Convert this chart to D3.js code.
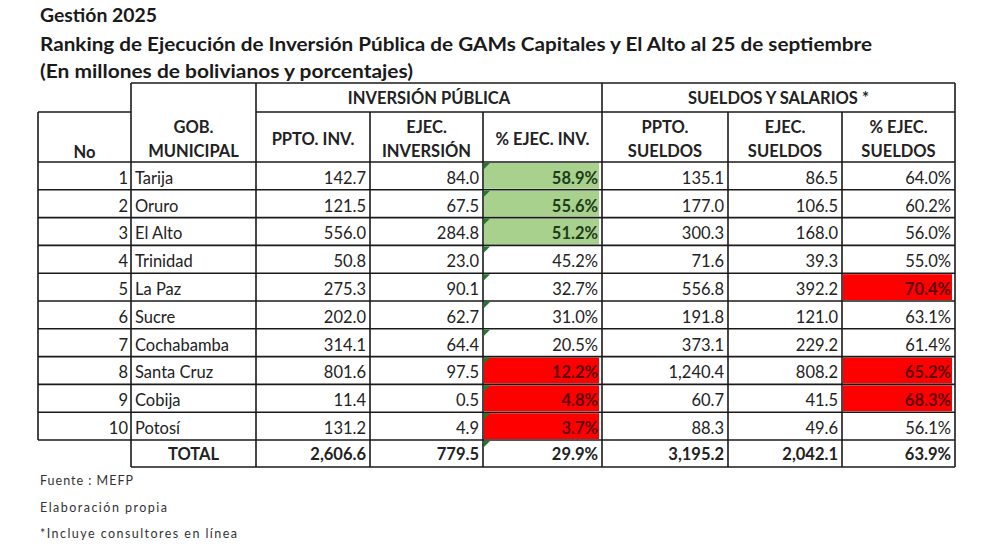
<!DOCTYPE html>
<html><head><meta charset="utf-8">
<script src="https://cdn.jsdelivr.net/npm/d3@7"></script>
<style>html,body{margin:0;padding:0;background:#fff;}svg{display:block;}</style>
</head><body>
<script>
// ---- data ----
const titleLines = ["Gestión 2025",
  "Ranking de Ejecución de Inversión Pública de GAMs Capitales y El Alto al 25 de septiembre",
  "(En millones de bolivianos y porcentajes)"];
const rankNo = [1,2,3,4,5,6,7,8,9,10];
const municipios = ["Tarija","Oruro","El Alto","Trinidad","La Paz","Sucre","Cochabamba","Santa Cruz","Cobija","Potosí"];
const pptoInv = [142.7,121.5,556.0,50.8,275.3,202.0,314.1,801.6,11.4,131.2];
const ejecInv = [84.0,67.5,284.8,23.0,90.1,62.7,64.4,97.5,0.5,4.9];
const pctInv = [58.9,55.6,51.2,45.2,32.7,31.0,20.5,12.2,4.8,3.7];
const pptoSue = [135.1,177.0,300.3,71.6,556.8,191.8,373.1,1240.4,60.7,88.3];
const ejecSue = [86.5,106.5,168.0,39.3,392.2,121.0,229.2,808.2,41.5,49.6];
const pctSue = [64.0,60.2,56.0,55.0,70.4,63.1,61.4,65.2,68.3,56.1];
const totals = {pptoInv:2606.6, ejecInv:779.5, pctInv:29.9, pptoSue:3195.2, ejecSue:2042.1, pctSue:63.9};
const greenInv = ["Tarija","Oruro","El Alto"];
const redInv = ["Santa Cruz","Cobija","Potosí"];
const redSue = ["La Paz","Santa Cruz","Cobija"];
const groupHeaders = ["INVERSIÓN PÚBLICA","SUELDOS Y SALARIOS *"];
const colHeaders = [["No"],["GOB.","MUNICIPAL"],["PPTO. INV."],["EJEC.","INVERSIÓN"],["% EJEC. INV."],["PPTO.","SUELDOS"],["EJEC.","SUELDOS"],["% EJEC.","SUELDOS"]];
const footnotes = ["Fuente : MEFP","Elaboración propia","*Incluye consultores en línea"];

// ---- layout ----
const W=1000,H=558;
const FONT="Lato, 'Open Sans', sans-serif";
const TXT="#222";
const svg=d3.select("body").append("svg").attr("width",W).attr("height",H);
const colKeys=["no","mun","pptoInv","ejecInv","pctInv","pptoSue","ejecSue","pctSue"];
const colEdges=[38,131,256,370,483,602,728,842,955];
const xL=d3.scaleOrdinal().domain(colKeys).range(colEdges.slice(0,8));
const xR=d3.scaleOrdinal().domain(colKeys).range(colEdges.slice(1));
const bodyTop=162, bodyBot=440, totBot=467, hdrTop=83, hdr2Top=112;
const y=d3.scaleBand().domain(d3.range(municipios.length)).range([bodyTop,bodyBot]);
const rh=y.bandwidth();

const fmt1=d3.format(",.1f");
const fmtPct=v=>d3.format(".1f")(v)+"%";

// titles
const titleW=[117,832,373], titleY=[22,51,78];
svg.selectAll("text.title").data(titleLines).join("text")
  .attr("x",40).attr("y",(d,i)=>titleY[i])
  .attr("font-family",FONT).attr("font-weight","bold").attr("font-size",19)
  .attr("textLength",(d,i)=>titleW[i]).attr("lengthAdjust","spacingAndGlyphs")
  .attr("fill","#1a1a1a").text(d=>d);

// cell fills
const rows=municipios.map((m,i)=>({i,no:rankNo[i],mun:m,pptoInv:pptoInv[i],ejecInv:ejecInv[i],pctInv:pctInv[i],pptoSue:pptoSue[i],ejecSue:ejecSue[i],pctSue:pctSue[i]}));
const fills=[];
rows.forEach(r=>{
  if(greenInv.includes(r.mun)) fills.push({i:r.i,k:"pctInv",c:"#a9d18e",t:"#1d3b18"});
  if(redInv.includes(r.mun)) fills.push({i:r.i,k:"pctInv",c:"#ff0000",t:"#5e0000"});
  if(redSue.includes(r.mun)) fills.push({i:r.i,k:"pctSue",c:"#ff0000",t:"#5e0000"});
});
svg.selectAll("rect.fill").data(fills).join("rect")
  .attr("x",d=>xL(d.k)+1).attr("y",d=>y(d.i)+1)
  .attr("width",d=>xR(d.k)-xL(d.k)-4).attr("height",rh-2).attr("fill",d=>d.c);

// grid lines
const g=svg.append("g").attr("stroke","#1a1a1a").attr("stroke-width",1.6).attr("fill","none");
const hl=[];
hl.push([xL("mun"),xR("pctSue"),hdrTop]);
hl.push([xL("no"),xL("mun"),hdr2Top]);
hl.push([xL("pptoInv"),xR("pctSue"),hdr2Top]);
d3.range(municipios.length+1).forEach(i=>hl.push([xL("no"),xR("pctSue"),i<municipios.length?y(i):bodyBot]));
hl.push([xL("mun"),xR("pctSue"),totBot]);
g.selectAll("line.h").data(hl).join("line")
  .attr("x1",d=>d[0]).attr("x2",d=>d[1]).attr("y1",d=>d[2]).attr("y2",d=>d[2]);
const vl=[];
vl.push([xL("no"),hdr2Top,bodyBot]);
vl.push([xL("mun"),hdrTop,totBot]);
vl.push([xL("pptoInv"),hdrTop,totBot]);
["ejecInv","pctInv"].forEach(k=>vl.push([xL(k),hdr2Top,totBot]));
vl.push([xL("pptoSue"),hdrTop,totBot]);
["ejecSue","pctSue"].forEach(k=>vl.push([xL(k),hdr2Top,totBot]));
vl.push([xR("pctSue"),hdrTop,totBot]);
g.selectAll("line.v").data(vl).join("line")
  .attr("x1",d=>d[0]).attr("x2",d=>d[0]).attr("y1",d=>d[1]).attr("y2",d=>d[2]);

// green indicator triangles
const triRows=d3.range(municipios.length+1);
svg.selectAll("path.tri").data(triRows).join("path")
  .attr("d",i=>{const x0=xL("pctInv")+1,y0=(i<municipios.length?y(i):bodyBot)+1;return `M${x0},${y0}L${x0+6},${y0}L${x0},${y0+6}Z`;})
  .attr("fill","#1f7a2e");

// group headers
svg.selectAll("text.gh").data(groupHeaders).join("text")
  .attr("x",(d,i)=>i===0?(xL("pptoInv")+xR("pctInv"))/2:(xL("pptoSue")+xR("pctSue"))/2)
  .attr("y",hdrTop+21).attr("text-anchor","middle")
  .attr("font-family",FONT).attr("font-weight","bold").attr("font-size",16.5).attr("fill",TXT)
  .text(d=>d);

// column headers
colHeaders.forEach((lines,ci)=>{
  const k=colKeys[ci];
  const cx=(xL(k)+xR(k))/2;
  const ys= ci===0? [hdr2Top+46] : (lines.length===2?[hdr2Top+21,hdr2Top+45]:[hdr2Top+33]);
  lines.forEach((t,li)=>{
    svg.append("text").attr("x",cx).attr("y",ys[li]).attr("text-anchor","middle")
      .attr("font-family",FONT).attr("font-weight","bold").attr("font-size",16.5).attr("fill",TXT).text(t);
  });
});

// body cells
const cellData=[];
rows.forEach(r=>{
  colKeys.forEach(k=>{
    const f=fills.find(d=>d.i===r.i&&d.k===k);
    let txt;
    if(k==="mun") txt=r.mun;
    else if(k==="no") txt=String(r.no);
    else if(k.startsWith("pct")) txt=fmtPct(r[k]);
    else txt=fmt1(r[k]);
    cellData.push({i:r.i,k,txt,bold:!!f,color:f?f.t:TXT});
  });
});
svg.selectAll("text.cell").data(cellData).join("text")
  .attr("x",d=>d.k==="mun"?xL(d.k)+4:(d.k==="no"?xR(d.k)-3:xR(d.k)-4))
  .attr("y",d=>y(d.i)+rh-6)
  .attr("text-anchor",d=>d.k==="mun"?"start":"end")
  .attr("font-family",FONT).attr("font-size",16.5)
  .attr("font-weight",d=>d.bold?"bold":"normal")
  .attr("fill",d=>d.color).text(d=>d.txt);

// total row
const totCells=[{k:"mun",txt:"TOTAL"}].concat(["pptoInv","ejecInv","pctInv","pptoSue","ejecSue","pctSue"].map(k=>({k,txt:k.startsWith("pct")?fmtPct(totals[k]):fmt1(totals[k])})));
svg.selectAll("text.tot").data(totCells).join("text")
  .attr("x",d=>d.k==="mun"?(xL(d.k)+xR(d.k))/2:xR(d.k)-4)
  .attr("y",totBot-7)
  .attr("text-anchor",d=>d.k==="mun"?"middle":"end")
  .attr("font-family",FONT).attr("font-weight","bold").attr("font-size",16.5).attr("fill",TXT)
  .text(d=>d.txt);

// footnotes
const fnW=[93,127,197];
svg.selectAll("text.fn").data(footnotes).join("text")
  .attr("x",40).attr("y",(d,i)=>485+i*26.5)
  .attr("font-family",FONT).attr("font-size",12.5).attr("fill","#333")
  .attr("textLength",(d,i)=>fnW[i]).attr("lengthAdjust","spacing")
  .text(d=>d);
</script>
</body></html>
